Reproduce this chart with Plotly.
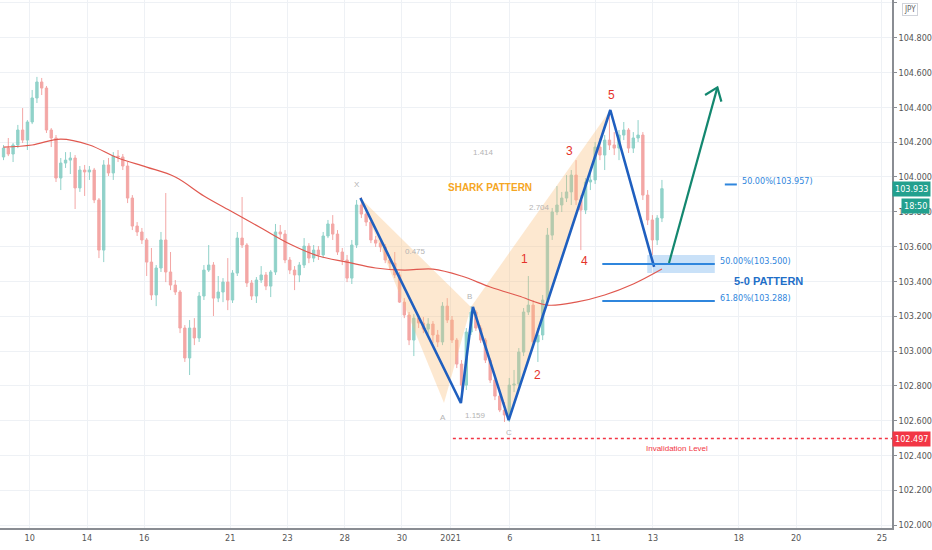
#!/usr/bin/env python3
"""USD/JPY 4h candles with the shark pattern and 5-0 pattern markup."""

import plotly.graph_objects as go


# =============================================================================
# Data (4h candles, 6 per trading day, from Dec 9)
# =============================================================================

CANDLES_PER_DAY = 6
FIRST_OPEN = 104.115

CLOSE = [
    104.166, 104.132, 104.184, 104.270, 104.212, 104.316, 104.454, 104.546, 104.511, 104.270,
    104.224, 103.994, 104.080, 104.097, 104.109, 103.937, 104.040, 104.029, 104.040, 103.868,
    103.580, 104.069, 104.023, 104.120, 104.115, 104.063, 103.879, 103.718, 103.684, 103.638,
    103.511, 103.322, 103.477, 103.638, 103.454, 103.379, 103.339, 103.132, 102.960, 103.132,
    103.075, 103.316, 103.465, 103.494, 103.304, 103.339, 103.396, 103.293, 103.448, 103.649,
    103.609, 103.391, 103.316, 103.408, 103.437, 103.373, 103.454, 103.684, 103.672, 103.523,
    103.465, 103.437, 103.494, 103.603, 103.534, 103.580, 103.552, 103.661, 103.730, 103.672,
    103.569, 103.523, 103.419, 103.609, 103.839, 103.787, 103.741, 103.638, 103.620, 103.598,
    103.523, 103.505, 103.437, 103.281, 103.207, 103.063, 103.189, 103.161, 103.126, 103.155,
    103.092, 103.052, 103.258, 103.178, 103.063, 102.925, 102.804, 103.109, 103.224, 103.132,
    103.063, 102.948, 102.833, 102.741, 102.661, 102.632, 102.804, 102.810, 102.994, 103.224,
    103.264, 103.052, 103.092, 103.293, 103.666, 103.799, 103.839, 103.879, 103.914, 104.011,
    103.868, 103.810, 103.971, 103.983, 104.172, 104.126, 104.212, 104.184, 104.166, 104.241,
    104.270, 104.166, 104.224, 104.241, 103.896, 103.753, 103.638, 103.764, 103.933,
]

HIGH = [
    104.184, 104.224, 104.195, 104.299, 104.396, 104.327, 104.500, 104.575, 104.569, 104.523,
    104.281, 104.241, 104.109, 104.143, 104.143, 104.126, 104.063, 104.069, 104.063, 104.052,
    103.879, 104.097, 104.109, 104.143, 104.155, 104.132, 104.086, 103.896, 103.741, 103.707,
    103.649, 103.592, 103.494, 103.684, 103.908, 103.569, 103.408, 103.350, 103.149, 103.178,
    103.189, 103.339, 103.494, 103.609, 103.511, 103.431, 103.419, 103.534, 103.465, 103.684,
    103.885, 103.620, 103.408, 103.425, 103.488, 103.454, 103.465, 103.730, 103.724, 103.695,
    103.540, 103.488, 103.511, 103.649, 103.620, 103.609, 103.603, 103.684, 103.753, 103.781,
    103.695, 103.592, 103.552, 103.638, 103.868, 103.885, 103.810, 103.764, 103.661, 103.638,
    103.615, 103.540, 103.569, 103.454, 103.304, 103.224, 103.212, 103.207, 103.195, 103.189,
    103.172, 103.121, 103.281, 103.304, 103.201, 103.075, 102.948, 103.132, 103.258, 103.235,
    103.149, 103.075, 102.960, 102.856, 102.764, 102.707, 102.845, 102.891, 103.017, 103.247,
    103.431, 103.293, 103.132, 103.322, 103.707, 103.822, 103.948, 103.914, 104.011, 104.040,
    104.097, 103.896, 103.994, 104.029, 104.201, 104.224, 104.241, 104.385, 104.258, 104.270,
    104.316, 104.281, 104.258, 104.327, 104.258, 103.925, 103.781, 103.781, 103.983,
]

LOW = [
    104.097, 104.120, 104.086, 104.166, 104.195, 104.155, 104.304, 104.425, 104.471, 104.253,
    104.172, 103.971, 103.925, 104.052, 104.017, 103.816, 103.914, 103.891, 103.983, 103.850,
    103.534, 103.511, 104.006, 103.983, 104.086, 104.040, 103.850, 103.695, 103.661, 103.615,
    103.431, 103.293, 103.258, 103.454, 103.396, 103.350, 103.322, 103.103, 102.937, 102.862,
    103.034, 103.052, 103.293, 103.454, 103.201, 103.281, 103.281, 103.235, 103.276, 103.431,
    103.592, 103.368, 103.293, 103.276, 103.391, 103.350, 103.310, 103.437, 103.649, 103.505,
    103.442, 103.350, 103.396, 103.477, 103.505, 103.511, 103.523, 103.534, 103.649, 103.638,
    103.552, 103.494, 103.396, 103.385, 103.592, 103.764, 103.718, 103.620, 103.598, 103.569,
    103.505, 103.465, 103.419, 103.276, 103.189, 103.034, 102.971, 103.132, 103.103, 103.098,
    103.046, 103.023, 103.034, 103.161, 103.046, 102.902, 102.747, 102.776, 103.092, 103.115,
    103.046, 102.931, 102.816, 102.718, 102.649, 102.592, 102.592, 102.764, 102.799, 102.971,
    103.207, 103.029, 102.937, 103.063, 103.276, 103.638, 103.781, 103.799, 103.856, 103.839,
    103.839, 103.580, 103.787, 103.925, 103.960, 104.097, 104.040, 104.155, 104.126, 104.097,
    104.212, 104.138, 104.138, 104.201, 103.868, 103.724, 103.552, 103.609, 103.741,
]

# moving average, sampled once per trading day (every 6th candle)
MA_STEP = 6
MA_VALUES = [
    104.172, 104.184, 104.218, 104.184, 104.109, 104.057, 104.000, 103.891,
    103.799, 103.707, 103.615, 103.546, 103.511, 103.477, 103.465, 103.471,
    103.431, 103.368, 103.316, 103.264, 103.281, 103.322, 103.385, 103.471,
]

# x axis is in trading days, Dec 10 = 0
TICK_DAYS = [0, 2, 4, 7, 9, 11, 13, 14.7, 16.77, 19.77, 21.77, 24.77, 26.77, 29.77]
TICK_TEXT = ["10", "14", "16", "21", "23", "28", "30", "2021", "6", "11", "13", "18", "20", "25"]

# pattern drawings (trading day, price)
WAVE_DAYS = [11.55, 15.06, 15.48, 16.73, 20.28, 21.81]
WAVE_PRICES = [103.879, 102.701, 103.253, 102.603, 104.385, 103.483]
SHARK_1_DAYS = [11.55, 14.47, 15.41]
SHARK_1_PRICES = [103.879, 102.701, 103.253]
SHARK_2_DAYS = [15.41, 16.73, 20.28]
SHARK_2_PRICES = [103.253, 102.603, 104.385]
ARROW_DAYS = [22.33, 24.02]
ARROW_PRICES = [103.506, 104.515]
ARROW_HEAD_DAYS = [23.59, 24.02, 24.16]
ARROW_HEAD_PRICES = [104.471, 104.515, 104.433]

FIB_LEVELS = [103.957, 103.500, 103.288]
FIB_LABELS = ["50.00%(103.957)", "50.00%(103.500)", "61.80%(103.288)"]
FIB_START = [24.28, 20.0, 20.0]
FIB_END = [24.70, 23.93, 23.93]
ZONE_DAYS = (21.57, 23.93)
ZONE_PRICES = (103.448, 103.552)
INVALIDATION = 102.497
INVALIDATION_START = 14.78
LAST_PRICE = 103.933

WAVE_LABELS = [("1", 17.29, 103.529), ("2", 17.74, 102.862), ("3", 18.85, 104.149),
               ("4", 19.37, 103.517), ("5", 20.31, 104.471)]
POINT_LABELS = [("X", 11.44, 103.954), ("A", 14.43, 102.620), ("B", 15.37, 103.316),
                ("C", 16.73, 102.529), ("0.475", 13.46, 103.574), ("1.159", 15.58, 102.632),
                ("2.704", 17.81, 103.822), ("1.414", 15.86, 104.143)]

X_RANGE = [-1.04, 30.12]
Y_RANGE = [101.983, 105.017]

FONT = "Liberation Sans, Arial, sans-serif"
AXIS_FONT = "Liberation Sans Narrow, DejaVu Sans Condensed, Liberation Sans, sans-serif"
GRID = "#eef1f5"
BLUE = "#1f5fbf"
FIB_BLUE = "#2f86dd"


def candle_days(n: int) -> list[float]:
    return [-1 + (i + 0.5) / CANDLES_PER_DAY for i in range(n)]


def build_figure() -> go.Figure:
    days = candle_days(len(CLOSE))
    opens = [FIRST_OPEN] + CLOSE[:-1]
    fig = go.Figure()

    for xs, ys in ((SHARK_1_DAYS, SHARK_1_PRICES), (SHARK_2_DAYS, SHARK_2_PRICES)):
        fig.add_trace(go.Scatter(
            x=xs + xs[:1], y=ys + ys[:1], mode="lines", fill="toself",
            fillcolor="rgba(250,190,120,0.35)", line=dict(width=0), hoverinfo="skip",
        ))

    fig.add_trace(go.Candlestick(
        x=days, open=opens, high=HIGH, low=LOW, close=CLOSE,
        increasing=dict(line=dict(color="#6cc3b8", width=1), fillcolor="#6cc3b8"),
        decreasing=dict(line=dict(color="#f08a88", width=1), fillcolor="#f08a88"),
        whiskerwidth=0, opacity=0.75,
    ))

    fig.add_trace(go.Scatter(
        x=days[::MA_STEP], y=MA_VALUES, mode="lines", line=dict(color="#e0584f", width=1.2, shape="spline"),
        hoverinfo="skip",
    ))

    fig.add_trace(go.Scatter(
        x=WAVE_DAYS, y=WAVE_PRICES, mode="lines", line=dict(color=BLUE, width=2.6), hoverinfo="skip",
    ))
    fig.add_trace(go.Scatter(
        x=ARROW_DAYS, y=ARROW_PRICES, mode="lines", line=dict(color="#13876f", width=2.2), hoverinfo="skip",
    ))
    fig.add_trace(go.Scatter(
        x=ARROW_HEAD_DAYS, y=ARROW_HEAD_PRICES, mode="lines", line=dict(color="#13876f", width=2.2),
        hoverinfo="skip",
    ))

    # fib levels and the 5-0 zone
    fig.add_shape(type="rect", x0=ZONE_DAYS[0], x1=ZONE_DAYS[1], y0=ZONE_PRICES[0], y1=ZONE_PRICES[1],
                  fillcolor="rgba(100,170,235,0.35)", line=dict(width=0), layer="below")
    for level, label, x0, x1 in zip(FIB_LEVELS, FIB_LABELS, FIB_START, FIB_END):
        fig.add_shape(type="line", x0=x0, x1=x1, y0=level, y1=level, line=dict(color=FIB_BLUE, width=2))
        fig.add_annotation(x=x1 + 0.1, y=level, text=label, showarrow=False, xanchor="left", yanchor="bottom",
                           yshift=-4, font=dict(family=AXIS_FONT, size=9, color=FIB_BLUE))

    fig.add_shape(type="line", x0=INVALIDATION_START, x1=X_RANGE[1], y0=INVALIDATION, y1=INVALIDATION,
                  line=dict(color="#f23645", width=1.5, dash="dot"))
    fig.add_annotation(x=22.61, y=102.442, text="Invalidation Level", showarrow=False,
                       font=dict(family=FONT, size=8, color="#f23645"))

    fig.add_annotation(x=16.07, y=103.942, text="<b>SHARK PATTERN</b>", showarrow=False,
                       font=dict(family=FONT, size=10, color="#f5a623"))
    fig.add_annotation(x=25.81, y=103.402, text="<b>5-0 PATTERN</b>", showarrow=False,
                       font=dict(family=FONT, size=11, color="#1f6fc8"))

    for text, x, y in WAVE_LABELS:
        fig.add_annotation(x=x, y=y, text=text, showarrow=False, font=dict(family=FONT, size=12, color="#e5332a"))
    for text, x, y in POINT_LABELS:
        fig.add_annotation(x=x, y=y, text=text, showarrow=False, font=dict(family=FONT, size=8, color="#b4b4b4"))

    # price scale labels
    fig.add_annotation(xref="paper", x=1, y=LAST_PRICE, text="103.933", showarrow=False, xanchor="left",
                       bgcolor="#22a08e", font=dict(family=AXIS_FONT, size=9, color="white"), borderpad=2)
    fig.add_annotation(xref="paper", x=1, y=LAST_PRICE, yshift=-17, xshift=9, text="18:50", showarrow=False,
                       xanchor="left", bgcolor="#22a08e", font=dict(family=AXIS_FONT, size=9, color="white"),
                       borderpad=2)
    fig.add_annotation(xref="paper", x=1, y=INVALIDATION, text="102.497", showarrow=False, xanchor="left",
                       bgcolor="#f23645", font=dict(family=AXIS_FONT, size=9, color="white"), borderpad=2)
    fig.add_annotation(xref="paper", yref="paper", x=1, y=0.995, xshift=10, text="JPY", showarrow=False,
                       xanchor="left", yanchor="top", bgcolor="white", bordercolor="#d0d3da", borderwidth=1,
                       font=dict(family=AXIS_FONT, size=8, color="#666"), borderpad=1)

    fig.update_xaxes(
        range=X_RANGE, tickvals=TICK_DAYS, ticktext=TICK_TEXT, showgrid=True, gridcolor=GRID,
        zeroline=False, showline=True, linecolor="#8a8d93", linewidth=1.5,
        tickfont=dict(family=AXIS_FONT, size=9, color="#555"), rangeslider=dict(visible=False),
    )
    fig.update_yaxes(
        range=Y_RANGE, side="right", dtick=0.2, tick0=102, tickformat=".3f", showgrid=True, gridcolor=GRID,
        zeroline=False, showline=True, linecolor="#8a8d93", linewidth=1.5, ticks="outside", ticklen=3,
        tickcolor="#8a8d93", tickfont=dict(family=AXIS_FONT, size=9, color="#555"),
    )
    fig.update_layout(
        width=932, height=550, showlegend=False, plot_bgcolor="white", paper_bgcolor="white",
        margin=dict(l=0, r=36, t=0, b=22), hovermode=False,
    )
    return fig


def main() -> None:
    fig = build_figure()
    # drop the browser's default body margin so the figure sits at the window origin
    fig.write_html("out.html", config={"displayModeBar": False},
                   post_script="document.body.style.margin = '0';")


if __name__ == "__main__":
    main()
